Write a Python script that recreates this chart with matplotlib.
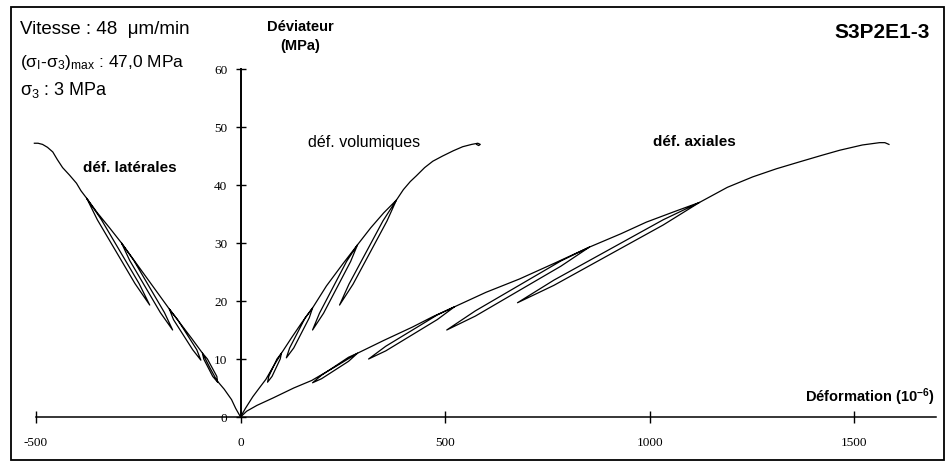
import matplotlib
matplotlib.use("Agg")
import matplotlib.pyplot as plt
from matplotlib.patches import Rectangle

plt.rcParams['font.family'] = 'Liberation Sans'
plt.rcParams['mathtext.fontset'] = 'custom'
plt.rcParams['mathtext.rm'] = 'Liberation Sans'
plt.rcParams['mathtext.it'] = 'Liberation Sans:italic'
plt.rcParams['mathtext.bf'] = 'Liberation Sans:bold'

# deformations (10^-6) vs deviateur (MPa), loading path with unload/reload loops
axial_x = [0, 15, 40, 80, 130, 174, 230, 286,
           264, 198, 176, 198, 264, 286,
           350, 420, 470, 523,
           481, 355, 313, 355, 481, 523,
           600, 682, 770, 853,
           783, 574, 504, 574, 783, 853,
           930, 992, 1060, 1122,
           1033, 766, 677, 766, 1033, 1122,
           1190, 1252, 1310, 1367, 1420, 1465, 1520, 1562, 1575, 1585]
axial_y = [0, 1, 2, 3.3, 5, 6.3, 8.6, 11,
           9.6, 6.6, 5.9, 7.2, 10.3, 11,
           13.2, 15.5, 17.3, 19,
           16.8, 11.4, 10, 12.2, 17.6, 19,
           21.5, 23.8, 26.6, 29.3,
           26.0, 17.4, 15, 18.3, 26.9, 29.3,
           31.6, 33.6, 35.4, 37,
           33.1, 22.7, 19.7, 23.6, 34.0, 37,
           39.6, 41.4, 42.8, 44, 45.1, 46, 46.9, 47.3, 47.3, 47.0]

vol_x = [0, 12, 30, 48, 62, 80, 100,
         97, 77, 66, 69, 89, 100,
         125, 150, 176,
         168, 130, 112, 120, 158, 176,
         210, 250, 286,
         269, 203, 176, 193, 259, 286,
         318, 350, 381,
         358, 275, 242, 265, 348, 381,
         398, 415, 430, 450, 470, 494, 520, 543, 565, 580, 586, 582, 577]
vol_y = [0, 1.5, 3.5, 5.2, 6.5, 8.7, 11,
         10, 7, 6, 7, 10, 11,
         13.7, 16.3, 18.8,
         17.1, 11.9, 10.2, 11.9, 17.1, 18.8,
         22.6, 26.4, 29.7,
         26.8, 17.9, 15, 17.9, 26.8, 29.7,
         32.6, 35.2, 37.4,
         33.8, 22.9, 19.3, 22.9, 33.8, 37.4,
         39.2, 40.6, 41.6, 43, 44.1, 45, 45.9, 46.6, 47.0, 47.2, 47.0, 46.8, 47.0]

lat_x = [0, -12, -22, -40, -58, -75, -93,
         -81, -58, -56, -68, -90, -93,
         -120, -148, -174,
         -154, -107, -97, -117, -164, -174,
         -215, -255, -291,
         -261, -186, -166, -196, -271, -291,
         -320, -350, -376,
         -340, -248, -222, -258, -350, -376,
         -390, -401, -418, -435, -448, -459, -472, -484, -495, -504]
lat_y = [0, 1.5, 3, 4.8, 6.3, 8.5, 11,
         10, 7, 6, 7, 10, 11,
         13.6, 16.2, 18.6,
         16.8, 11.6, 9.8, 11.6, 16.8, 18.6,
         22.6, 26.5, 30,
         27, 18, 15, 18, 27, 30,
         32.6, 35.2, 37.7,
         34, 23, 19.3, 23, 34, 37.7,
         39, 40.3, 41.7, 43, 44.4, 45.7, 46.5, 47, 47.2, 47.2]

x_ticks = [-500, 0, 500, 1000, 1500]
y_ticks = [0, 10, 20, 30, 40, 50, 60]

W, H = 951, 463
fig = plt.figure(figsize=(W / 100, H / 100), dpi=100)
ax = fig.add_axes([36 / W, (H - 417) / H, 900 / W, 348 / H])

for xs, ys in [(axial_x, axial_y), (vol_x, vol_y), (lat_x, lat_y)]:
    ax.plot(xs, ys, color='black', lw=0.9, clip_on=False)

ax.set_xlim(-500, 1700)
ax.set_ylim(0, 60)
ax.spines['top'].set_visible(False)
ax.spines['right'].set_visible(False)
ax.spines['left'].set_position(('data', 0))
ax.spines['left'].set_linewidth(1.4)
ax.spines['bottom'].set_linewidth(1.1)

ax.set_xticks(x_ticks)
ax.set_xticklabels([str(v) for v in x_ticks])
ax.set_yticks(y_ticks)
ax.set_yticklabels([str(v) for v in y_ticks])
ax.tick_params(axis='x', direction='inout', length=9, width=1, pad=10)
ax.tick_params(axis='y', direction='inout', length=7, width=1, pad=6)
for lab in ax.get_xticklabels() + ax.get_yticklabels():
    lab.set_fontfamily('Liberation Serif')
    lab.set_fontsize(9.5)

def ftext(x, y, s, **kw):
    fig.text(x / W, 1 - y / H, s, **kw)

ftext(20, 30, 'Vitesse : 48  \u03bcm/min', fontsize=13.5, va='center')
ftext(20, 62, '(\u03c3$_{\\mathrm{I}}$-\u03c3$_{3}$)$_{\\mathrm{max}}$ : 47,0 MPa', fontsize=12.5, va='center')
ftext(20, 90, '\u03c3$_{3}$ : 3 MPa', fontsize=13, va='center')
ftext(300, 27, 'Déviateur', fontsize=10.5, fontweight='bold', ha='center', va='center')
ftext(300, 46, '(MPa)', fontsize=10.5, fontweight='bold', ha='center', va='center')
ftext(930, 32, 'S3P2E1-3', fontsize=15, fontweight='bold', ha='right', va='center')
ftext(130, 168, 'déf. latérales', fontsize=11, fontweight='bold', ha='center', va='center')
ftext(364, 142, 'déf. volumiques', fontsize=11.5, ha='center', va='center')
ftext(694, 142, 'déf. axiales', fontsize=11, fontweight='bold', ha='center', va='center')
ftext(935, 397, r'Déformation (10$^{\mathbf{-6}}$)', fontsize=10.5, fontweight='bold', ha='right', va='center')

fig.add_artist(Rectangle((11 / W, 3 / H), 933 / W, (H - 10) / H, transform=fig.transFigure,
                         fill=False, edgecolor='black', lw=1.3))

fig.savefig('out.png', dpi=100)
